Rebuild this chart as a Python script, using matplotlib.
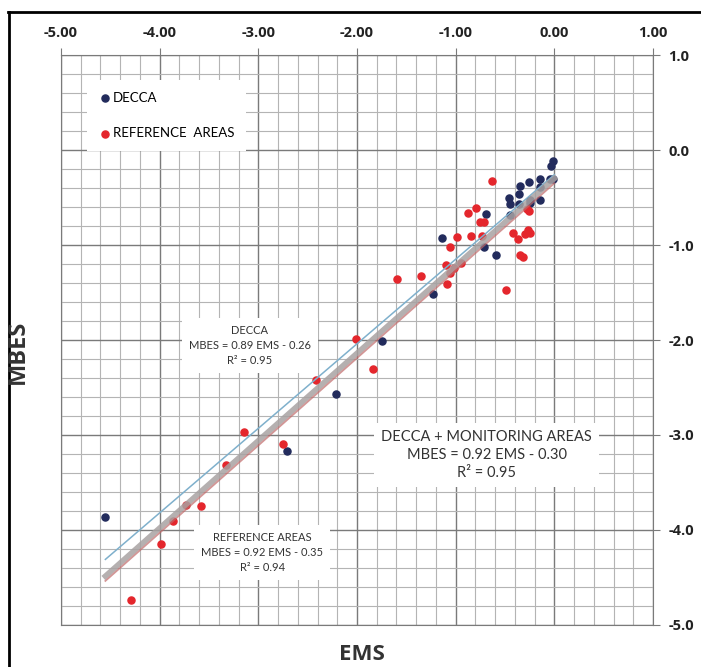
import matplotlib.pyplot as plt
from matplotlib.lines import Line2D
import numpy as np

### DADOS LIDOS DO GRAFICO
# pontos DECCA (EMS, MBES)
decca_ems = [-0.01, -0.03, -0.01, -0.04, -0.15, -0.15, -0.26, -0.35, -0.36, -0.46,
             -0.45, -0.25, -0.25, -0.15, -0.36, -0.45, -0.69, -1.14, -0.71, -0.59,
             -1.23, -1.745, -2.21, -2.71, -4.555]
decca_mbes = [-0.12, -0.17, -0.30, -0.31, -0.30, -0.39, -0.34, -0.38, -0.46, -0.51,
              -0.57, -0.53, -0.56, -0.53, -0.57, -0.68, -0.67, -0.93, -1.02, -1.10,
              -1.52, -2.01, -2.57, -3.17, -3.86]

# pontos das areas de referencia
ref_ems = [-0.63, -0.79, -0.87, -0.755, -0.71, -0.28, -0.26, -0.42, -0.27, -0.30,
           -0.25, -0.37, -0.985, -0.84, -0.73, -1.06, -0.35, -0.32, -1.10, -0.95,
           -1.02, -1.06, -1.09, -1.35, -1.59, -0.49, -2.005, -1.84, -2.42, -2.75,
           -3.146, -3.33, -3.73, -3.585, -3.86, -3.99, -4.29]
ref_mbes = [-0.33, -0.61, -0.66, -0.76, -0.76, -0.62, -0.64, -0.87, -0.84, -0.88,
            -0.87, -0.94, -0.92, -0.90, -0.90, -1.02, -1.10, -1.13, -1.21, -1.19,
            -1.24, -1.29, -1.41, -1.33, -1.36, -1.47, -1.99, -2.30, -2.42, -3.09,
            -2.965, -3.32, -3.74, -3.75, -3.905, -4.15, -4.74]

# retas de regressao (inclinacao, intercepto) e intervalo em EMS
fit_decca = (0.89, -0.26)
fit_ref = (0.92, -0.35)
fit_total = (0.92, -0.30)
fit_x = np.array([-4.55, 0.0])

xticks = [-5, -4, -3, -2, -1, 0, 1]
yticks = [1, 0, -1, -2, -3, -4, -5]

navy = '#222b5c'
red = '#e4262c'

# Configurar o tamanho do grafico
fig = plt.figure(figsize=(7.01, 6.67), dpi=100)
ax = fig.add_axes([0.087, 0.063, 0.8445, 0.8545])

ax.set_xlim(-5, 1)
ax.set_ylim(-5, 1)

# grade fina (0.2) e grossa (1.0)
ax.set_xticks(xticks)
ax.set_yticks(yticks)
ax.set_xticks(np.arange(-5, 1.01, 0.2), minor=True)
ax.set_yticks(np.arange(-5, 1.01, 0.2), minor=True)
ax.grid(which='minor', color='#b4b4b4', linewidth=0.8)
ax.grid(which='major', color='#7a7a7a', linewidth=1.0)
ax.set_axisbelow(True)

# eixos em cima e a direita
ax.xaxis.tick_top()
ax.yaxis.tick_right()
ax.tick_params(which='minor', length=0)
ax.tick_params(which='major', length=5, color='#7a7a7a', pad=6)
ax.set_xticklabels([f'{v:.2f}' for v in xticks], fontsize=10.5, fontweight='bold',
                   family='Open Sans', color='#222222')
ax.set_yticklabels([f'{v:.1f}' for v in yticks], fontsize=10.5, fontweight='bold',
                   family='Open Sans', color='#222222')
for s in ax.spines.values():
    s.set_color('#7a7a7a')

# pontos
ax.scatter(decca_ems, decca_mbes, s=26, color=navy, label='DECCA', zorder=3)
ax.scatter(ref_ems, ref_mbes, s=26, color=red, label='REFERENCE  AREAS', zorder=3)

# retas
ax.plot(fit_x, fit_decca[0] * fit_x + fit_decca[1], color='#7fb0cc', linewidth=1.1, zorder=4)
ax.plot(fit_x, fit_total[0] * fit_x + fit_total[1], color='#a8a2a2', linewidth=4, alpha=0.85, zorder=4)
ax.plot(fit_x, fit_ref[0] * fit_x + fit_ref[1], color='#c06a6a', linewidth=1.3, alpha=0.7, zorder=5)

# legenda
ax.legend(loc='upper left', bbox_to_anchor=(0.032, 0.968), frameon=True, fancybox=False,
          edgecolor='none', facecolor='white', framealpha=1, labelspacing=1.8,
          handletextpad=0.1, handlelength=1.0, borderpad=0.9,
          prop={'family': 'Lato', 'size': 9.5})

# caixas com as equacoes
box = dict(facecolor='white', edgecolor='none', pad=5)
ax.text(-3.085, -2.06, 'DECCA\nMBES = 0.89 EMS - 0.26\nR² = 0.95', ha='center', va='center',
        fontsize=8, family=['Lato', 'DejaVu Sans'], color='#333333', linespacing=1.45, bbox=box, zorder=6)
ax.text(-2.96, -4.24, 'REFERENCE AREAS\nMBES = 0.92 EMS - 0.35\nR² = 0.94', ha='center', va='center',
        fontsize=8, family=['Lato', 'DejaVu Sans'], color='#333333', linespacing=1.45, bbox=box, zorder=6)
ax.text(-0.684, -3.21, 'DECCA + MONITORING AREAS\nMBES = 0.92 EMS - 0.30\nR² = 0.95', ha='center', va='center',
        fontsize=10.5, family=['Lato', 'DejaVu Sans'], color='#333333', linespacing=1.4, bbox=box, zorder=6)

# rotulos dos eixos
fig.text(18 / 701, 1 - 352 / 667, 'MBES', rotation=90, ha='center', va='center',
         fontsize=17, fontweight='bold', family='Open Sans', color='#333333')
fig.text(362 / 701, 1 - 655 / 667, 'EMS', ha='center', va='center',
         fontsize=16, fontweight='bold', family='Open Sans', color='#333333')

# moldura externa
fig.add_artist(Line2D([8.5 / 701, 8.5 / 701], [0, 1 - 11.5 / 667], color='black', linewidth=2, transform=fig.transFigure))
fig.add_artist(Line2D([8 / 701, 1], [1 - 11.5 / 667, 1 - 11.5 / 667], color='black', linewidth=2, transform=fig.transFigure))

# Salvar o grafico como uma imagem
plt.savefig('out.png', dpi=100)
